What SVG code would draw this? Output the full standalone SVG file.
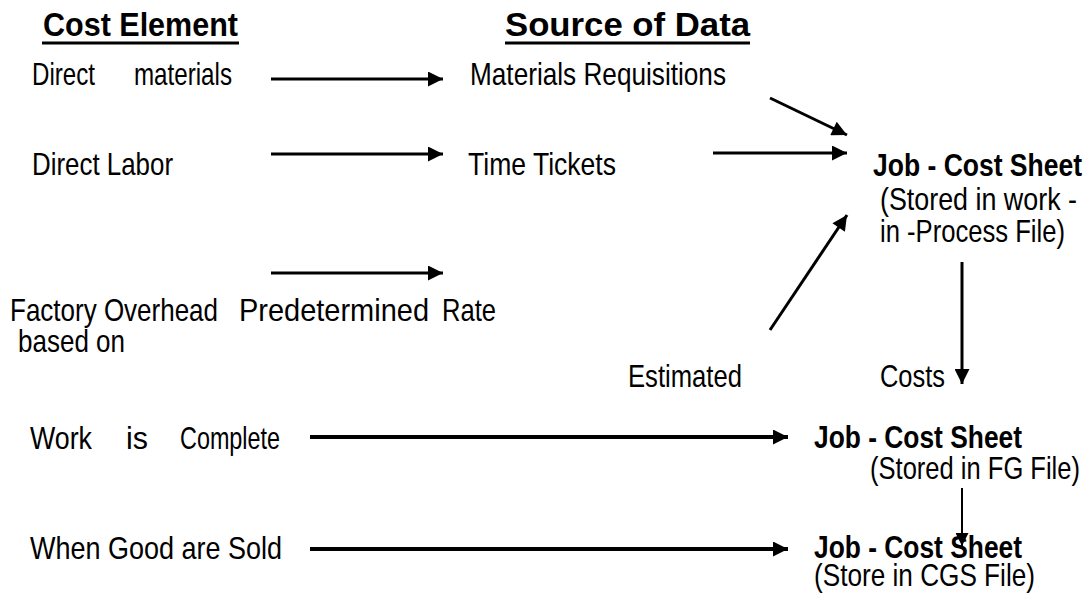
<svg xmlns="http://www.w3.org/2000/svg" width="1087" height="593" viewBox="0 0 1087 593">
  <style>
    .t { font-family: "Liberation Sans", Arial, sans-serif; font-size: 32px; fill: #000; }
    .b { font-family: "Liberation Sans", Arial, sans-serif; font-size: 31px; font-weight: bold; fill: #000; }
    .h { font-family: "Liberation Sans", Arial, sans-serif; font-size: 34px; font-weight: bold; fill: #000; }
    .ln { stroke: #000; stroke-width: 3; fill: none; }
    .thick { stroke: #000; stroke-width: 4; fill: none; }
    .thin { stroke: #000; stroke-width: 2; fill: none; }
  </style>
  <defs>
    <marker id="ah" viewBox="0 0 10 10" refX="10" refY="5" markerWidth="16" markerHeight="15" markerUnits="userSpaceOnUse" orient="auto">
      <path d="M0,0 L10,5 L0,10 Z" fill="#000"/>
    </marker>
    <marker id="ahs" viewBox="0 0 10 10" refX="10" refY="5" markerWidth="14" markerHeight="13" markerUnits="userSpaceOnUse" orient="auto">
      <path d="M0,0 L10,5 L0,10 Z" fill="#000"/>
    </marker>
  </defs>
  <rect width="1087" height="593" fill="#fff"/>

  <!-- Narrow lettering: every label is squeezed to 82% width with a local transform,
       then textLength pins its exact span. -->

  <!-- column headings -->
  <g id="head-cost">
    <text class="h" transform="translate(43 36) scale(0.82 1)" textLength="237.8" lengthAdjust="spacingAndGlyphs">Cost Element</text>
    <line x1="42" y1="43" x2="239" y2="43" class="ln"/>
  </g>
  <g id="head-source">
    <text class="h" transform="translate(505 36) scale(0.82 1)" textLength="298.8" lengthAdjust="spacingAndGlyphs">Source of Data</text>
    <line x1="505" y1="43" x2="750" y2="43" class="ln"/>
  </g>

  <!-- cost elements -->
  <g id="el-materials">
    <text class="t" transform="translate(32 85) scale(0.82 1)" textLength="76.8" lengthAdjust="spacingAndGlyphs">Direct</text>
    <text class="t" transform="translate(134 85) scale(0.82 1)" textLength="119.5" lengthAdjust="spacingAndGlyphs">materials</text>
  </g>
  <g id="el-labor">
    <text class="t" transform="translate(32 175) scale(0.82 1)" textLength="172" lengthAdjust="spacingAndGlyphs">Direct Labor</text>
  </g>
  <g id="el-overhead">
    <text class="t" transform="translate(10 321) scale(0.82 1)" textLength="253.7" lengthAdjust="spacingAndGlyphs">Factory Overhead</text>
    <text class="t" transform="translate(18 352) scale(0.82 1)" textLength="130.5" lengthAdjust="spacingAndGlyphs">based on</text>
  </g>
  <g id="el-complete">
    <text class="t" transform="translate(30 449) scale(0.82 1)" textLength="75.6" lengthAdjust="spacingAndGlyphs">Work</text>
    <text class="t" transform="translate(126 449) scale(0.82 1)" textLength="26.8" lengthAdjust="spacingAndGlyphs">is</text>
    <text class="t" transform="translate(180 449) scale(0.82 1)" textLength="122" lengthAdjust="spacingAndGlyphs">Complete</text>
  </g>
  <g id="el-sold">
    <text class="t" transform="translate(30 559) scale(0.82 1)" textLength="307.3" lengthAdjust="spacingAndGlyphs">When Good are Sold</text>
  </g>

  <!-- data sources -->
  <g id="src-requisitions">
    <text class="t" transform="translate(470 85) scale(0.82 1)" textLength="312.2" lengthAdjust="spacingAndGlyphs">Materials Requisitions</text>
  </g>
  <g id="src-tickets">
    <text class="t" transform="translate(468 175) scale(0.82 1)" textLength="180.5" lengthAdjust="spacingAndGlyphs">Time Tickets</text>
  </g>
  <g id="src-rate">
    <text class="t" transform="translate(239 321) scale(0.82 1)" textLength="231.7" lengthAdjust="spacingAndGlyphs">Predetermined</text>
    <text class="t" transform="translate(442 321) scale(0.82 1)" textLength="65.9" lengthAdjust="spacingAndGlyphs">Rate</text>
  </g>
  <g id="lbl-estimated">
    <text class="t" transform="translate(628 387) scale(0.82 1)" textLength="139" lengthAdjust="spacingAndGlyphs">Estimated</text>
  </g>
  <g id="lbl-costs">
    <text class="t" transform="translate(880 387) scale(0.82 1)" textLength="79.3" lengthAdjust="spacingAndGlyphs">Costs</text>
  </g>

  <!-- job-cost sheets -->
  <g id="sheet-wip">
    <text class="b" transform="translate(873 176) scale(0.82 1)" textLength="254.9" lengthAdjust="spacingAndGlyphs">Job - Cost Sheet</text>
    <text class="t" transform="translate(880 210) scale(0.82 1)" textLength="240.2" lengthAdjust="spacingAndGlyphs">(Stored in work -</text>
    <text class="t" transform="translate(880 242) scale(0.82 1)" textLength="225.6" lengthAdjust="spacingAndGlyphs">in -Process File)</text>
  </g>
  <g id="sheet-fg">
    <text class="b" transform="translate(814 448) scale(0.82 1)" textLength="253.7" lengthAdjust="spacingAndGlyphs">Job - Cost Sheet</text>
    <text class="t" transform="translate(870 479) scale(0.82 1)" textLength="256.1" lengthAdjust="spacingAndGlyphs">(Stored in FG File)</text>
  </g>
  <g id="sheet-cgs">
    <text class="b" transform="translate(814 558) scale(0.82 1)" textLength="253.7" lengthAdjust="spacingAndGlyphs">Job - Cost Sheet</text>
    <text class="t" transform="translate(814 586) scale(0.82 1)" textLength="269.5" lengthAdjust="spacingAndGlyphs">(Store in CGS File)</text>
  </g>

  <!-- connectors -->
  <g id="connectors">
    <line x1="271" y1="79" x2="443" y2="79" class="ln" marker-end="url(#ah)"/>
    <line x1="271" y1="154" x2="443" y2="154" class="ln" marker-end="url(#ah)"/>
    <line x1="271" y1="273" x2="443" y2="273" class="ln" marker-end="url(#ah)"/>
    <line x1="770" y1="98" x2="847" y2="135" class="ln" marker-end="url(#ah)"/>
    <line x1="713" y1="153" x2="847" y2="153" class="ln" marker-end="url(#ah)"/>
    <line x1="770" y1="330" x2="847" y2="215" class="ln" marker-end="url(#ah)"/>
    <line x1="962" y1="262" x2="962" y2="384" class="ln" marker-end="url(#ah)"/>
    <line x1="310" y1="437" x2="788" y2="437" class="thick" marker-end="url(#ah)"/>
    <line x1="962" y1="488" x2="962" y2="546" class="thin" marker-end="url(#ahs)"/>
    <line x1="310" y1="549" x2="788" y2="549" class="thick" marker-end="url(#ah)"/>
  </g>
</svg>
